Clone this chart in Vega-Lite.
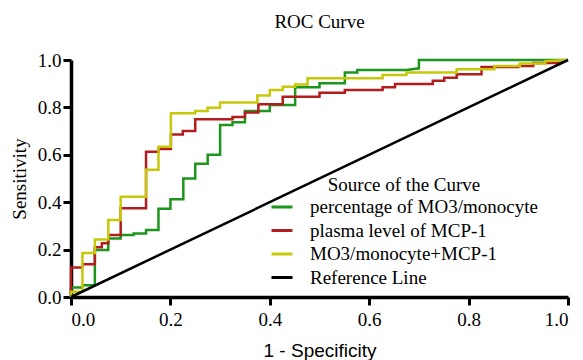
{
  "$schema": "https://vega.github.io/schema/vega-lite/v6.json",
  "autosize": "none",
  "width": 497,
  "height": 237,
  "padding": {"left": 71, "top": 60, "right": 15, "bottom": 63},
  "background": "white",
  "title": {
    "text": "ROC Curve",
    "font": "Liberation Serif",
    "fontSize": 19,
    "fontWeight": "normal",
    "color": "black",
    "anchor": "middle",
    "offset": 19
  },
  "config": {
    "view": {"stroke": null},
    "axis": {
      "grid": false,
      "domainColor": "black",
      "domainWidth": 3.5,
      "tickColor": "black",
      "tickWidth": 3,
      "tickSize": 8,
      "labelFont": "Liberation Serif",
      "labelFontSize": 19,
      "labelColor": "black",
      "labelPadding": 2,
      "titleColor": "black",
      "titleFontSize": 19,
      "titleFontWeight": "normal"
    }
  },
  "data": {
    "values": [
      {"s": "percentage of MO3/monocyte", "i": 0, "x": 0, "y": 0},
      {"s": "percentage of MO3/monocyte", "i": 1, "x": 0, "y": 0.04},
      {"s": "percentage of MO3/monocyte", "i": 2, "x": 0.023, "y": 0.04},
      {"s": "percentage of MO3/monocyte", "i": 3, "x": 0.023, "y": 0.05},
      {"s": "percentage of MO3/monocyte", "i": 4, "x": 0.048, "y": 0.05},
      {"s": "percentage of MO3/monocyte", "i": 5, "x": 0.048, "y": 0.198},
      {"s": "percentage of MO3/monocyte", "i": 6, "x": 0.075, "y": 0.198},
      {"s": "percentage of MO3/monocyte", "i": 7, "x": 0.075, "y": 0.247},
      {"s": "percentage of MO3/monocyte", "i": 8, "x": 0.1, "y": 0.247},
      {"s": "percentage of MO3/monocyte", "i": 9, "x": 0.1, "y": 0.262},
      {"s": "percentage of MO3/monocyte", "i": 10, "x": 0.126, "y": 0.262},
      {"s": "percentage of MO3/monocyte", "i": 11, "x": 0.126, "y": 0.268},
      {"s": "percentage of MO3/monocyte", "i": 12, "x": 0.151, "y": 0.268},
      {"s": "percentage of MO3/monocyte", "i": 13, "x": 0.151, "y": 0.283},
      {"s": "percentage of MO3/monocyte", "i": 14, "x": 0.176, "y": 0.283},
      {"s": "percentage of MO3/monocyte", "i": 15, "x": 0.176, "y": 0.372},
      {"s": "percentage of MO3/monocyte", "i": 16, "x": 0.2, "y": 0.372},
      {"s": "percentage of MO3/monocyte", "i": 17, "x": 0.2, "y": 0.412},
      {"s": "percentage of MO3/monocyte", "i": 18, "x": 0.226, "y": 0.412},
      {"s": "percentage of MO3/monocyte", "i": 19, "x": 0.226, "y": 0.5},
      {"s": "percentage of MO3/monocyte", "i": 20, "x": 0.25, "y": 0.5},
      {"s": "percentage of MO3/monocyte", "i": 21, "x": 0.25, "y": 0.562},
      {"s": "percentage of MO3/monocyte", "i": 22, "x": 0.275, "y": 0.562},
      {"s": "percentage of MO3/monocyte", "i": 23, "x": 0.275, "y": 0.6},
      {"s": "percentage of MO3/monocyte", "i": 24, "x": 0.3, "y": 0.6},
      {"s": "percentage of MO3/monocyte", "i": 25, "x": 0.3, "y": 0.726},
      {"s": "percentage of MO3/monocyte", "i": 26, "x": 0.325, "y": 0.726},
      {"s": "percentage of MO3/monocyte", "i": 27, "x": 0.325, "y": 0.737},
      {"s": "percentage of MO3/monocyte", "i": 28, "x": 0.35, "y": 0.737},
      {"s": "percentage of MO3/monocyte", "i": 29, "x": 0.35, "y": 0.785},
      {"s": "percentage of MO3/monocyte", "i": 30, "x": 0.4, "y": 0.785},
      {"s": "percentage of MO3/monocyte", "i": 31, "x": 0.4, "y": 0.81},
      {"s": "percentage of MO3/monocyte", "i": 32, "x": 0.451, "y": 0.81},
      {"s": "percentage of MO3/monocyte", "i": 33, "x": 0.451, "y": 0.885},
      {"s": "percentage of MO3/monocyte", "i": 34, "x": 0.5, "y": 0.885},
      {"s": "percentage of MO3/monocyte", "i": 35, "x": 0.5, "y": 0.902},
      {"s": "percentage of MO3/monocyte", "i": 36, "x": 0.551, "y": 0.902},
      {"s": "percentage of MO3/monocyte", "i": 37, "x": 0.551, "y": 0.947},
      {"s": "percentage of MO3/monocyte", "i": 38, "x": 0.576, "y": 0.947},
      {"s": "percentage of MO3/monocyte", "i": 39, "x": 0.576, "y": 0.958},
      {"s": "percentage of MO3/monocyte", "i": 40, "x": 0.675, "y": 0.958},
      {"s": "percentage of MO3/monocyte", "i": 41, "x": 0.7, "y": 0.965},
      {"s": "percentage of MO3/monocyte", "i": 42, "x": 0.7, "y": 1.0},
      {"s": "percentage of MO3/monocyte", "i": 43, "x": 1.0, "y": 1.0},

      {"s": "plasma level of MCP-1", "i": 0, "x": 0, "y": 0},
      {"s": "plasma level of MCP-1", "i": 1, "x": 0, "y": 0.125},
      {"s": "plasma level of MCP-1", "i": 2, "x": 0.023, "y": 0.125},
      {"s": "plasma level of MCP-1", "i": 3, "x": 0.023, "y": 0.138},
      {"s": "plasma level of MCP-1", "i": 4, "x": 0.048, "y": 0.138},
      {"s": "plasma level of MCP-1", "i": 5, "x": 0.048, "y": 0.21},
      {"s": "plasma level of MCP-1", "i": 6, "x": 0.062, "y": 0.21},
      {"s": "plasma level of MCP-1", "i": 7, "x": 0.062, "y": 0.227},
      {"s": "plasma level of MCP-1", "i": 8, "x": 0.075, "y": 0.227},
      {"s": "plasma level of MCP-1", "i": 9, "x": 0.075, "y": 0.262},
      {"s": "plasma level of MCP-1", "i": 10, "x": 0.1, "y": 0.262},
      {"s": "plasma level of MCP-1", "i": 11, "x": 0.1, "y": 0.374},
      {"s": "plasma level of MCP-1", "i": 12, "x": 0.151, "y": 0.374},
      {"s": "plasma level of MCP-1", "i": 13, "x": 0.151, "y": 0.613},
      {"s": "plasma level of MCP-1", "i": 14, "x": 0.176, "y": 0.613},
      {"s": "plasma level of MCP-1", "i": 15, "x": 0.176, "y": 0.624},
      {"s": "plasma level of MCP-1", "i": 16, "x": 0.201, "y": 0.624},
      {"s": "plasma level of MCP-1", "i": 17, "x": 0.201, "y": 0.686},
      {"s": "plasma level of MCP-1", "i": 18, "x": 0.225, "y": 0.686},
      {"s": "plasma level of MCP-1", "i": 19, "x": 0.225, "y": 0.7},
      {"s": "plasma level of MCP-1", "i": 20, "x": 0.25, "y": 0.7},
      {"s": "plasma level of MCP-1", "i": 21, "x": 0.25, "y": 0.75},
      {"s": "plasma level of MCP-1", "i": 22, "x": 0.325, "y": 0.75},
      {"s": "plasma level of MCP-1", "i": 23, "x": 0.325, "y": 0.76},
      {"s": "plasma level of MCP-1", "i": 24, "x": 0.35, "y": 0.76},
      {"s": "plasma level of MCP-1", "i": 25, "x": 0.35, "y": 0.778},
      {"s": "plasma level of MCP-1", "i": 26, "x": 0.377, "y": 0.778},
      {"s": "plasma level of MCP-1", "i": 27, "x": 0.377, "y": 0.813},
      {"s": "plasma level of MCP-1", "i": 28, "x": 0.426, "y": 0.813},
      {"s": "plasma level of MCP-1", "i": 29, "x": 0.426, "y": 0.845},
      {"s": "plasma level of MCP-1", "i": 30, "x": 0.5, "y": 0.845},
      {"s": "plasma level of MCP-1", "i": 31, "x": 0.5, "y": 0.862},
      {"s": "plasma level of MCP-1", "i": 32, "x": 0.551, "y": 0.862},
      {"s": "plasma level of MCP-1", "i": 33, "x": 0.551, "y": 0.873},
      {"s": "plasma level of MCP-1", "i": 34, "x": 0.627, "y": 0.873},
      {"s": "plasma level of MCP-1", "i": 35, "x": 0.627, "y": 0.885},
      {"s": "plasma level of MCP-1", "i": 36, "x": 0.652, "y": 0.885},
      {"s": "plasma level of MCP-1", "i": 37, "x": 0.652, "y": 0.899},
      {"s": "plasma level of MCP-1", "i": 38, "x": 0.728, "y": 0.899},
      {"s": "plasma level of MCP-1", "i": 39, "x": 0.728, "y": 0.912},
      {"s": "plasma level of MCP-1", "i": 40, "x": 0.751, "y": 0.912},
      {"s": "plasma level of MCP-1", "i": 41, "x": 0.751, "y": 0.925},
      {"s": "plasma level of MCP-1", "i": 42, "x": 0.776, "y": 0.925},
      {"s": "plasma level of MCP-1", "i": 43, "x": 0.776, "y": 0.94},
      {"s": "plasma level of MCP-1", "i": 44, "x": 0.826, "y": 0.94},
      {"s": "plasma level of MCP-1", "i": 45, "x": 0.826, "y": 0.97},
      {"s": "plasma level of MCP-1", "i": 46, "x": 0.9, "y": 0.97},
      {"s": "plasma level of MCP-1", "i": 47, "x": 0.9, "y": 0.975},
      {"s": "plasma level of MCP-1", "i": 48, "x": 0.93, "y": 0.975},
      {"s": "plasma level of MCP-1", "i": 49, "x": 0.93, "y": 0.987},
      {"s": "plasma level of MCP-1", "i": 50, "x": 0.98, "y": 0.987},
      {"s": "plasma level of MCP-1", "i": 51, "x": 1.0, "y": 1.0},

      {"s": "MO3/monocyte+MCP-1", "i": 0, "x": 0, "y": 0},
      {"s": "MO3/monocyte+MCP-1", "i": 1, "x": 0, "y": 0.022},
      {"s": "MO3/monocyte+MCP-1", "i": 2, "x": 0.023, "y": 0.022},
      {"s": "MO3/monocyte+MCP-1", "i": 3, "x": 0.023, "y": 0.186},
      {"s": "MO3/monocyte+MCP-1", "i": 4, "x": 0.048, "y": 0.186},
      {"s": "MO3/monocyte+MCP-1", "i": 5, "x": 0.048, "y": 0.243},
      {"s": "MO3/monocyte+MCP-1", "i": 6, "x": 0.075, "y": 0.243},
      {"s": "MO3/monocyte+MCP-1", "i": 7, "x": 0.075, "y": 0.325},
      {"s": "MO3/monocyte+MCP-1", "i": 8, "x": 0.1, "y": 0.325},
      {"s": "MO3/monocyte+MCP-1", "i": 9, "x": 0.1, "y": 0.423},
      {"s": "MO3/monocyte+MCP-1", "i": 10, "x": 0.151, "y": 0.423},
      {"s": "MO3/monocyte+MCP-1", "i": 11, "x": 0.151, "y": 0.537},
      {"s": "MO3/monocyte+MCP-1", "i": 12, "x": 0.176, "y": 0.537},
      {"s": "MO3/monocyte+MCP-1", "i": 13, "x": 0.176, "y": 0.634},
      {"s": "MO3/monocyte+MCP-1", "i": 14, "x": 0.201, "y": 0.634},
      {"s": "MO3/monocyte+MCP-1", "i": 15, "x": 0.201, "y": 0.775},
      {"s": "MO3/monocyte+MCP-1", "i": 16, "x": 0.25, "y": 0.775},
      {"s": "MO3/monocyte+MCP-1", "i": 17, "x": 0.25, "y": 0.785},
      {"s": "MO3/monocyte+MCP-1", "i": 18, "x": 0.275, "y": 0.785},
      {"s": "MO3/monocyte+MCP-1", "i": 19, "x": 0.275, "y": 0.799},
      {"s": "MO3/monocyte+MCP-1", "i": 20, "x": 0.3, "y": 0.799},
      {"s": "MO3/monocyte+MCP-1", "i": 21, "x": 0.3, "y": 0.821},
      {"s": "MO3/monocyte+MCP-1", "i": 22, "x": 0.375, "y": 0.821},
      {"s": "MO3/monocyte+MCP-1", "i": 23, "x": 0.375, "y": 0.85},
      {"s": "MO3/monocyte+MCP-1", "i": 24, "x": 0.4, "y": 0.85},
      {"s": "MO3/monocyte+MCP-1", "i": 25, "x": 0.4, "y": 0.873},
      {"s": "MO3/monocyte+MCP-1", "i": 26, "x": 0.426, "y": 0.873},
      {"s": "MO3/monocyte+MCP-1", "i": 27, "x": 0.426, "y": 0.887},
      {"s": "MO3/monocyte+MCP-1", "i": 28, "x": 0.451, "y": 0.887},
      {"s": "MO3/monocyte+MCP-1", "i": 29, "x": 0.451, "y": 0.897},
      {"s": "MO3/monocyte+MCP-1", "i": 30, "x": 0.476, "y": 0.897},
      {"s": "MO3/monocyte+MCP-1", "i": 31, "x": 0.476, "y": 0.923},
      {"s": "MO3/monocyte+MCP-1", "i": 32, "x": 0.627, "y": 0.923},
      {"s": "MO3/monocyte+MCP-1", "i": 33, "x": 0.627, "y": 0.937},
      {"s": "MO3/monocyte+MCP-1", "i": 34, "x": 0.675, "y": 0.937},
      {"s": "MO3/monocyte+MCP-1", "i": 35, "x": 0.675, "y": 0.947},
      {"s": "MO3/monocyte+MCP-1", "i": 36, "x": 0.776, "y": 0.947},
      {"s": "MO3/monocyte+MCP-1", "i": 37, "x": 0.776, "y": 0.961},
      {"s": "MO3/monocyte+MCP-1", "i": 38, "x": 0.852, "y": 0.961},
      {"s": "MO3/monocyte+MCP-1", "i": 39, "x": 0.852, "y": 0.975},
      {"s": "MO3/monocyte+MCP-1", "i": 40, "x": 0.903, "y": 0.975},
      {"s": "MO3/monocyte+MCP-1", "i": 41, "x": 0.903, "y": 0.985},
      {"s": "MO3/monocyte+MCP-1", "i": 42, "x": 0.954, "y": 0.985},
      {"s": "MO3/monocyte+MCP-1", "i": 43, "x": 0.954, "y": 0.995},
      {"s": "MO3/monocyte+MCP-1", "i": 44, "x": 1.0, "y": 1.0},

      {"s": "Reference Line", "i": 0, "x": 0, "y": 0},
      {"s": "Reference Line", "i": 1, "x": 1, "y": 1}
    ]
  },
  "mark": {"type": "line", "strokeWidth": 2.5, "clip": false},
  "encoding": {
    "x": {
      "field": "x",
      "type": "quantitative",
      "scale": {"domain": [0, 1], "nice": false},
      "axis": {
        "values": [0, 0.2, 0.4, 0.6, 0.8, 1.0],
        "format": ".1f",
        "title": "1 - Specificity",
        "titleFont": "Liberation Sans",
        "titlePadding": 12,
        "labelPadding": 5
      }
    },
    "y": {
      "field": "y",
      "type": "quantitative",
      "scale": {"domain": [0, 1], "nice": false},
      "axis": {
        "values": [0, 0.2, 0.4, 0.6, 0.8, 1.0],
        "format": ".1f",
        "title": "Sensitivity",
        "titleFont": "Liberation Serif",
        "titlePadding": 8
      }
    },
    "color": {
      "field": "s",
      "type": "nominal",
      "scale": {
        "domain": ["percentage of MO3/monocyte", "plasma level of MCP-1", "MO3/monocyte+MCP-1", "Reference Line"],
        "range": ["#1c961c", "#b21e1e", "#c8c80a", "#000000"]
      },
      "legend": {
        "orient": "none",
        "legendX": 199,
        "legendY": 116,
        "padding": 0,
        "title": "Source of the Curve",
        "titleFont": "Liberation Serif",
        "titleFontSize": 19,
        "titleFontWeight": "normal",
        "titleColor": "black",
        "titleAnchor": "middle",
        "titlePadding": 0,
        "labelFont": "Liberation Serif",
        "labelFontSize": 19,
        "labelColor": "black",
        "labelLimit": 300,
        "labelOffset": 16,
        "symbolType": "stroke",
        "symbolSize": 441,
        "symbolStrokeWidth": 3,
        "rowPadding": 1.5
      }
    },
    "order": {"field": "i", "type": "quantitative"}
  }
}
